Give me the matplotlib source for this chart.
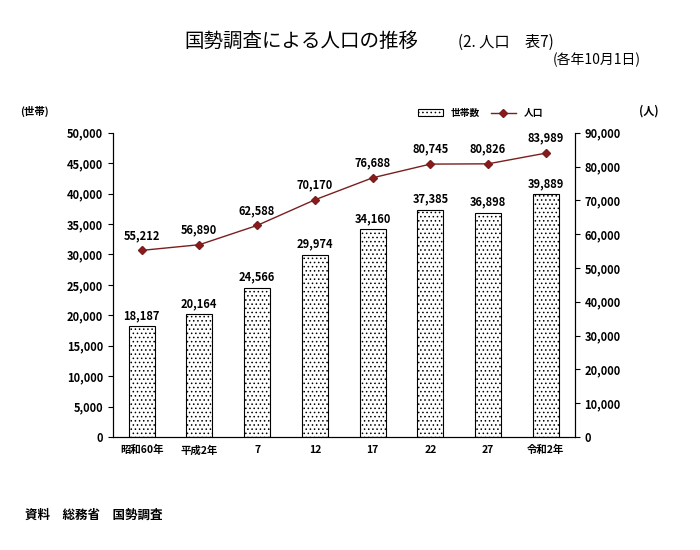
import matplotlib.pyplot as plt

plt.rcParams['font.family'] = 'Noto Sans CJK JP'
plt.rcParams['hatch.linewidth'] = 0.6

years = ['昭和60年', '平成2年', '7', '12', '17', '22', '27', '令和2年']
households = [18187, 20164, 24566, 29974, 34160, 37385, 36898, 39889]
population = [55212, 56890, 62588, 70170, 76688, 80745, 80826, 83989]

fig = plt.figure(figsize=(7, 5.5), dpi=100)
ax = fig.add_axes([0.161, 0.2055, 0.66, 0.553])
ax2 = ax.twinx()

x = range(len(years))
bars = ax.bar(x, households, width=0.45, color='white', edgecolor='black',
              linewidth=0.8, hatch='....', label='世帯数')
for i, v in enumerate(households):
    ax.text(i, v + 700, f'{v:,}', ha='center', va='bottom', fontsize=8, fontweight='bold')

ax2.plot(x, population, color='#7a1f1f', marker='D', markersize=4,
         markerfacecolor='#8b1a1a', linewidth=1, label='人口')
for i, v in enumerate(population):
    ax2.text(i, v + 2500, f'{v:,}', ha='center', va='bottom', fontsize=8, fontweight='bold')

ax.set_ylim(0, 50000)
ax.set_yticks(range(0, 50001, 5000))
ax.set_yticklabels([f'{t:,}' for t in range(0, 50001, 5000)], fontsize=8, fontweight='bold')
ax2.set_ylim(0, 90000)
ax2.set_yticks(range(0, 90001, 10000))
ax2.set_yticklabels([f'{t:,}' for t in range(0, 90001, 10000)], fontsize=8, fontweight='bold')
ax.set_xlim(-0.5, len(years) - 0.5)
ax.set_xticks(list(x))
ax.set_xticklabels(years, fontsize=7.5, fontweight='bold')
ax.tick_params(axis='x', length=0, pad=6)

for a in (ax, ax2):
    a.spines['top'].set_visible(False)

ax.text(-0.2, 1.06, '(世帯)', transform=ax.transAxes, fontsize=7.5, fontweight='bold')
ax2.text(1.14, 1.06, '(人)', transform=ax.transAxes, fontsize=8, fontweight='bold')

h1, l1 = ax.get_legend_handles_labels()
h2, l2 = ax2.get_legend_handles_labels()
ax.legend(h1 + h2, l1 + l2, loc='lower right', bbox_to_anchor=(0.95, 1.02), ncol=2,
          frameon=False, fontsize=7, prop={'weight': 'bold', 'size': 7},
          handlelength=2.5, columnspacing=1.2)

fig.text(0.43, 0.915, '国勢調査による人口の推移', ha='center', fontsize=14)
fig.text(0.655, 0.915, '(2. 人口　表7)', fontsize=11)
fig.text(0.79, 0.883, '(各年10月1日)', fontsize=10)
fig.text(0.035, 0.057, '資料　総務省　国勢調査', fontsize=9, fontweight='bold')

fig.savefig('out.png', dpi=100)
